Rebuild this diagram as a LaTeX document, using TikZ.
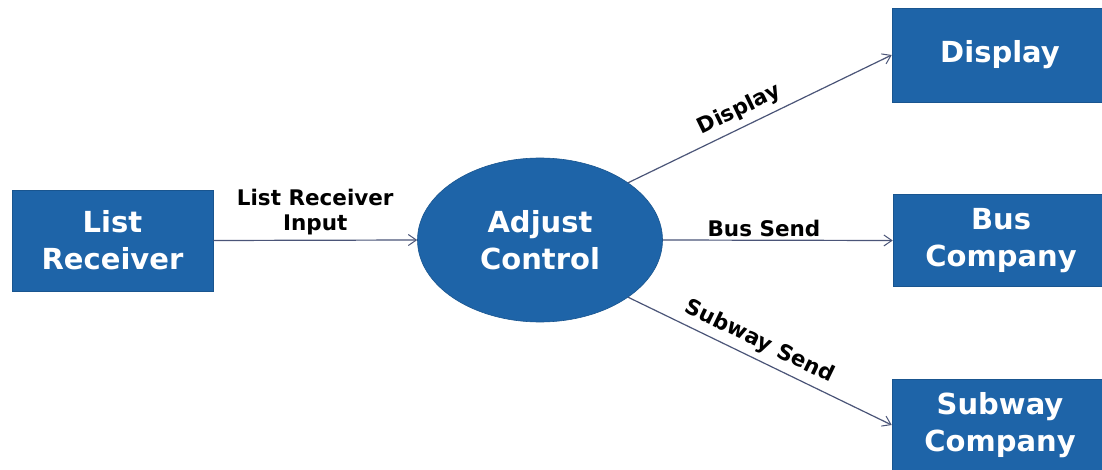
\documentclass[tikz,border=0pt]{standalone}
\usepackage{fontspec}
\setmainfont{DejaVu Sans}
\usetikzlibrary{shapes.geometric,arrows.meta}
\definecolor{boxblue}{RGB}{30,100,168}
\definecolor{linecol}{RGB}{75,85,120}
\tikzset{
  bluebox/.style={rectangle, fill=boxblue, draw=boxblue!85!black, line width=0.6pt, text=white, align=center, inner sep=0pt,
    font=\fontsize{29}{37}\selectfont\bfseries},
  blueell/.style={ellipse, fill=boxblue, draw=boxblue!85!black, line width=0.6pt, text=white, align=center, inner sep=0pt,
    font=\fontsize{29}{37}\selectfont\bfseries},
  arr/.style={draw=linecol, line width=1.2pt, -{Straight Barb[length=8pt,width=11pt,line width=1pt]}},
  lab/.style={font=\fontsize{21.5}{25}\selectfont\bfseries, text=black, align=center, inner sep=2pt}
}
\begin{document}
\begin{tikzpicture}[x=1pt,y=-1pt]
\useasboundingbox[fill=white] (0,0) rectangle (1102,470);
\node[bluebox, minimum width=201pt, minimum height=101pt] (lr) at (112.5,240.5) {List\\Receiver};
\node[blueell, minimum width=245pt, minimum height=164pt] (adj) at (540,240) {Adjust\\Control};
\node[bluebox, minimum width=216pt, minimum height=94pt] (disp) at (1000,55) {Display};
\node[bluebox, minimum width=216pt, minimum height=92pt] (bus) at (1001,240.5) {Bus\\Company};
\node[bluebox, minimum width=216pt, minimum height=92pt] (sub) at (1000,425) {Subway\\Company};
\draw[arr] (lr.east) -- node[lab, above=3pt] {List Receiver\\Input} (adj.west);
\draw[arr] (adj.east) -- node[lab, pos=0.44, above=1pt] {Bus Send} (bus.west);
\draw[arr] (adj.33.7) -- node[lab, pos=0.45, above=4pt, sloped] {Display} (disp.west);
\draw[arr] (adj.-33.7) -- node[lab, pos=0.47, above=4pt, sloped] {Subway Send} (sub.west);
\end{tikzpicture}
\end{document}
